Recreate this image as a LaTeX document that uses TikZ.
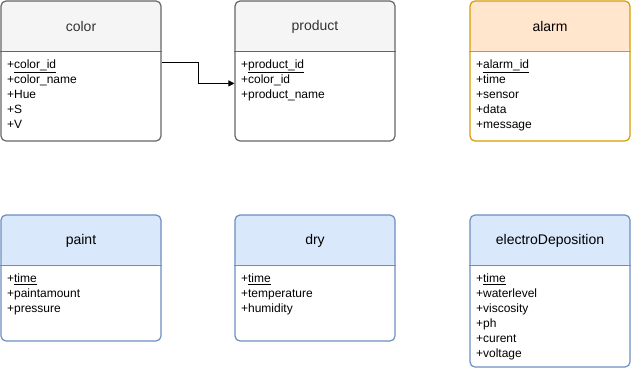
\documentclass[tikz,border=0pt]{standalone}
\usepackage{fontspec}
\setmainfont{Liberation Sans}
\usetikzlibrary{arrows.meta}

\definecolor{greyfill}{HTML}{F5F5F5}
\definecolor{greyline}{HTML}{666666}
\definecolor{greytext}{HTML}{333333}
\definecolor{orangefill}{HTML}{FFE6CC}
\definecolor{orangeline}{HTML}{D79B00}
\definecolor{bluefill}{HTML}{DAE8FC}
\definecolor{blueline}{HTML}{6C8EBF}

\tikzstyle{attr} = [anchor=base west,inner sep=0pt,font=\fontsize{12}{15}\selectfont]

\begin{document}
\begin{tikzpicture}
		[
		x=1pt,y=1pt,
		entity/.style 2 args={
		draw=#2,
		line width=1.2pt,
		rounded corners=5pt,
		minimum width=160pt,
		inner sep=0pt,
		path picture={\fill[#1] (path picture bounding box.north west) rectangle ([yshift=-51pt]path picture bounding box.north east);}},
		heading/.style={font=\fontsize{14}{16}\selectfont},
		fk/.style={line width=1pt,-{Triangle[length=6pt,width=6pt]}}
		]
		\useasboundingbox (0,0) rectangle (631,-368);

		% top row
		\node[entity={greyfill}{greyline},minimum height=140pt](color) at (81,-71) {};
		\draw[greyline,line width=1.2pt] ([yshift=-51pt]color.north west) -- ([yshift=-51pt]color.north east);
		\node[heading,text=greytext] at ([yshift=-26.5pt]color.north) {color};
		\foreach \a [count=\i] in {+\underline{color\_id},+color\_name,+Hue,+S,+V}
			\node[attr](color-\i) at ([xshift=6.5pt,yshift=-53pt-15pt*\i]color.north west) {\a};

		\node[entity={greyfill}{greyline},minimum height=140pt](product) at (315,-71) {};
		\draw[greyline,line width=1.2pt] ([yshift=-51pt]product.north west) -- ([yshift=-51pt]product.north east);
		\node[heading,text=greytext] at ([yshift=-26.5pt]product.north) {product};
		\foreach \a [count=\i] in {+\underline{product\_id},+color\_id,+product\_name}
			\node[attr](product-\i) at ([xshift=6.5pt,yshift=-53pt-15pt*\i]product.north west) {\a};

		\node[entity={orangefill}{orangeline},minimum height=140pt](alarm) at (550,-71) {};
		\draw[orangeline,line width=1.2pt] ([yshift=-51pt]alarm.north west) -- ([yshift=-51pt]alarm.north east);
		\node[heading] at ([yshift=-26.5pt]alarm.north) {alarm};
		\foreach \a [count=\i] in {+\underline{alarm\_id},+time,+sensor,+data,+message}
			\node[attr](alarm-\i) at ([xshift=6.5pt,yshift=-53pt-15pt*\i]alarm.north west) {\a};

		% bottom row
		\node[entity={bluefill}{blueline},minimum height=126pt](paint) at (81,-278) {};
		\draw[blueline,line width=1.2pt] ([yshift=-51pt]paint.north west) -- ([yshift=-51pt]paint.north east);
		\node[heading] at ([yshift=-26.5pt]paint.north) {paint};
		\foreach \a [count=\i] in {+\underline{time},+paintamount,+pressure}
			\node[attr](paint-\i) at ([xshift=6.5pt,yshift=-53pt-15pt*\i]paint.north west) {\a};

		\node[entity={bluefill}{blueline},minimum height=126pt](dry) at (315,-278) {};
		\draw[blueline,line width=1.2pt] ([yshift=-51pt]dry.north west) -- ([yshift=-51pt]dry.north east);
		\node[heading] at ([yshift=-26.5pt]dry.north) {dry};
		\foreach \a [count=\i] in {+\underline{time},+temperature,+humidity}
			\node[attr](dry-\i) at ([xshift=6.5pt,yshift=-53pt-15pt*\i]dry.north west) {\a};

		\node[entity={bluefill}{blueline},minimum height=152pt](electro) at (550,-291) {};
		\draw[blueline,line width=1.2pt] ([yshift=-51pt]electro.north west) -- ([yshift=-51pt]electro.north east);
		\node[heading] at ([yshift=-26.5pt]electro.north) {electroDeposition};
		\foreach \a [count=\i] in {+\underline{time},+waterlevel,+viscosity,+ph,+curent,+voltage}
			\node[attr](electro-\i) at ([xshift=6.5pt,yshift=-53pt-15pt*\i]electro.north west) {\a};

		% foreign key color_id
		\draw[fk] ([yshift=3pt]color.east |- color-1.mid) -- ++(37,0) |- (product.west |- product-2.base);
		\end{tikzpicture}
\end{document}
